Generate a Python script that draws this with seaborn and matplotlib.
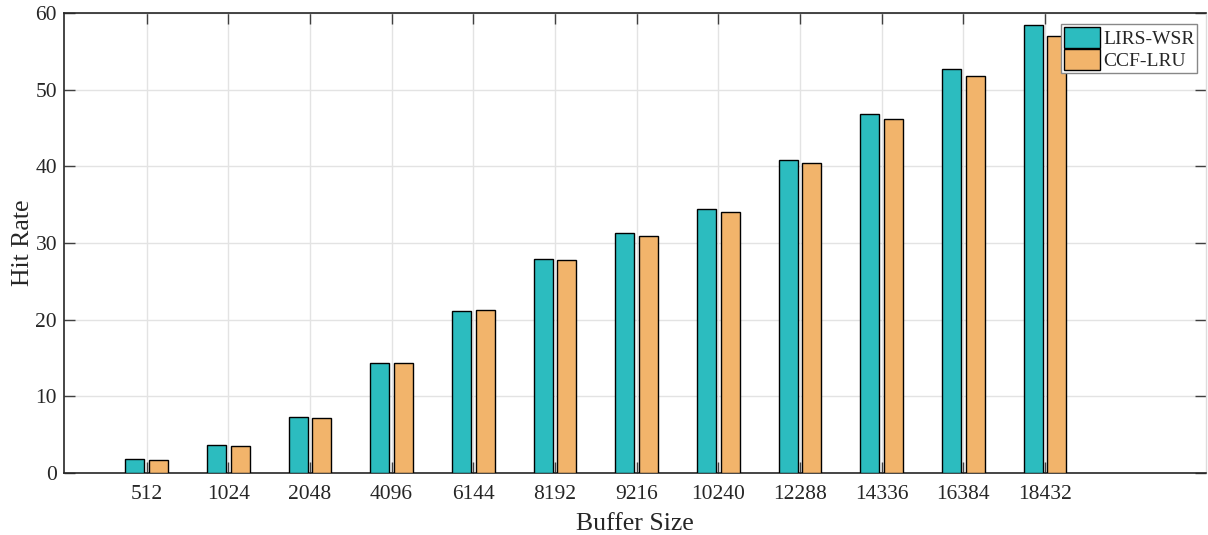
import seaborn as sns
import matplotlib.pyplot as plt
import pandas as pd

# dados
buffer_sizes = ["512", "1024", "2048", "4096", "6144", "8192", "9216",
                "10240", "12288", "14336", "16384", "18432"]
lirs_wsr = [1.79, 3.70, 7.26, 14.31, 21.17, 27.95, 31.26, 34.48, 40.85, 46.87, 52.7, 58.43]
ccf_lru = [1.66, 3.57, 7.13, 14.31, 21.26, 27.78, 30.87, 34.04, 40.39, 46.13, 51.8, 57.0]
series_names = ["LIRS-WSR", "CCF-LRU"]
colors = ["#2CBCBF", "#F2B46B"]

df = pd.DataFrame({
    "Buffer Size": buffer_sizes * 2,
    "Hit Rate": lirs_wsr + ccf_lru,
    "Series": [series_names[0]] * len(buffer_sizes) + [series_names[1]] * len(buffer_sizes),
})

# configuracoes
sns.set_style("whitegrid", {"grid.color": "#e3e3e3", "axes.edgecolor": "#262626"})
plt.rcParams["font.family"] = ["Liberation Serif", "DejaVu Serif"]
plt.rcParams["xtick.direction"] = "in"
plt.rcParams["ytick.direction"] = "in"

fig = plt.figure(figsize=(12.08, 5.35), dpi=100)
ax = fig.add_axes([0.053, 0.1159, 0.9453, 0.8598])

sns.barplot(data=df, x="Buffer Size", y="Hit Rate", hue="Series",
            palette=colors, width=0.58, gap=0.2, edgecolor="black",
            linewidth=1.0, saturation=1, ax=ax, zorder=3)

ax.set_xlim(-1.01, 12.97)
ax.set_ylim(0, 60)
ax.set_yticks(range(0, 61, 10))
ax.set_axisbelow(True)
ax.grid(True, axis="both", color="#e3e3e3", linewidth=1)

for side in ["top", "bottom", "left"]:
    ax.spines[side].set_visible(True)
    ax.spines[side].set_color("#262626")
    ax.spines[side].set_linewidth(1.2)
ax.spines["right"].set_color("#dddddd")
ax.spines["right"].set_linewidth(1.0)

ax.tick_params(axis="both", which="both", direction="in", length=8, width=1,
               color="#404040", labelsize=15.5, labelcolor="#262626",
               top=True, right=True, bottom=True, left=True)
ax.tick_params(axis="x", pad=9)
ax.tick_params(axis="y", pad=5)

ax.set_xlabel("Buffer Size", fontsize=18.5, color="#262626", labelpad=6)
ax.set_ylabel("Hit Rate", fontsize=18.5, color="#262626", labelpad=1)

leg = ax.legend(loc="upper right", bbox_to_anchor=(0.9925, 0.976), fontsize=14,
                frameon=True, fancybox=False, framealpha=1, edgecolor="#888888",
                handlelength=1.85, handleheight=1.3, handletextpad=0.15,
                labelspacing=0.05, borderpad=0.15, borderaxespad=0)
leg.get_frame().set_linewidth(1.0)

fig.savefig("out.png", dpi=100)
